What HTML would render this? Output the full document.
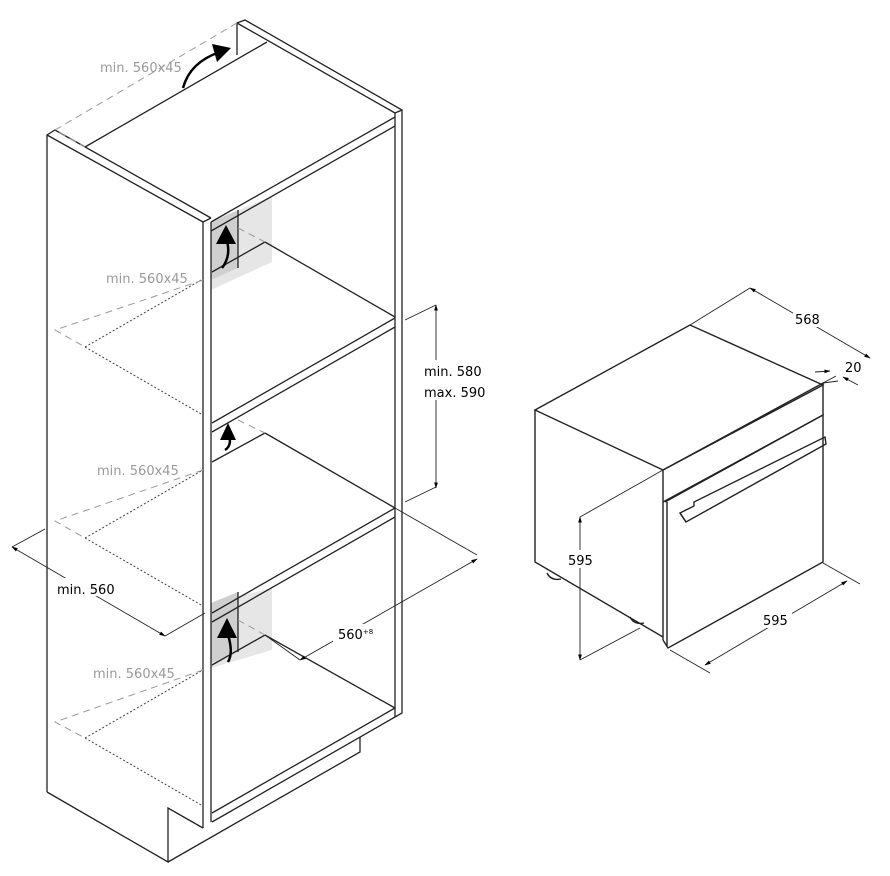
<!DOCTYPE html>
<html><head><meta charset="utf-8"><style>
html,body{margin:0;padding:0;background:#fff}
svg{display:block}
text{font-family:"DejaVu Sans","Liberation Sans",sans-serif;font-size:13px}
.g{fill:#9a9a9a}
</style></head><body>
<svg width="890" height="876" viewBox="0 0 890 876" xmlns="http://www.w3.org/2000/svg">
<defs><marker id="a" viewBox="0 0 10 10" refX="9" refY="5" markerWidth="7" markerHeight="7" orient="auto-start-reverse"><path d="M0,2L10,5L0,8z" fill="#000"/></marker></defs>
<!-- vents -->
<polygon points="211,222 272,196 272,262 211,290" fill="#e6e6e6"/>
<polygon points="211,222 238,210 238,268 211,280" fill="#cfcfcf"/>
<polygon points="211,603 272,588 272,650 211,668" fill="#e6e6e6"/>
<polygon points="211,603 238,592 238,652 211,663" fill="#cfcfcf"/>
<g stroke="#222" stroke-width="1.3" fill="none">
<!-- left side panel -->
<polyline points="47,792 47,135 55,130 211,218"/>
<line x1="47" y1="135" x2="203" y2="222"/>
<line x1="203" y1="222" x2="211" y2="218"/>
<line x1="203" y1="222" x2="203" y2="828"/>
<line x1="211" y1="222" x2="211" y2="822"/>
<polyline points="47,792 168,862 168,808 203,828"/>
<polyline points="168,862 360,752 360,737"/>
<!-- back/right -->
<polyline points="237,55 237,23 245,20 402,110 402,713 395,717"/>
<line x1="237" y1="23" x2="395" y2="113"/>
<line x1="395" y1="113" x2="402" y2="110"/>
<line x1="395" y1="113" x2="395" y2="717"/>
<!-- top board -->
<line x1="85" y1="147" x2="267" y2="42"/>
<line x1="211" y1="222" x2="395" y2="117"/>
<line x1="211" y1="231" x2="395" y2="126"/>
<!-- shelves -->
<line x1="212" y1="423" x2="395" y2="318"/><line x1="212" y1="432" x2="395" y2="327"/><line x1="265" y1="242" x2="395" y2="317"/><line x1="212" y1="272" x2="265" y2="242"/>
<line x1="212" y1="613" x2="395" y2="508"/><line x1="212" y1="622" x2="395" y2="517"/><line x1="265" y1="433" x2="395" y2="508"/><line x1="212" y1="462" x2="265" y2="433"/>
<line x1="212" y1="813" x2="395" y2="708"/><line x1="212" y1="822" x2="395" y2="717"/><line x1="265" y1="635" x2="395" y2="708"/><line x1="212" y1="665" x2="265" y2="635"/>
<line x1="238" y1="210" x2="238" y2="268"/><line x1="238" y1="592" x2="238" y2="652"/>
</g>
<!-- dotted/dashed -->
<g stroke="#444" stroke-width="1" fill="none" stroke-dasharray="2,2">
<line x1="85" y1="347" x2="203" y2="415"/><line x1="85" y1="347" x2="203" y2="279"/>
<line x1="85" y1="538" x2="203" y2="606"/><line x1="85" y1="538" x2="203" y2="470"/>
<line x1="85" y1="738" x2="203" y2="806"/><line x1="85" y1="738" x2="203" y2="670"/>
</g>
<g stroke="#999" stroke-width="1" fill="none" stroke-dasharray="7,5">
<polyline points="237,23 55,130 85,147"/>
<polyline points="203,280 55,330 85,347"/><line x1="238" y1="228" x2="265" y2="242"/>
<polyline points="203,470 55,521 85,538"/><line x1="238" y1="420" x2="265" y2="433"/>
<polyline points="203,670 55,722 85,738"/><line x1="238" y1="620" x2="265" y2="635"/>
</g>
<!-- arrows curved -->
<g stroke="#000" stroke-width="2.5" fill="none">
<path d="M183,88 Q190,62 220,52"/>
<path d="M222,268 Q232,255 226,238"/>
<path d="M225,450 Q233,445 228,432"/>
<path d="M228,662 Q234,652 227,632"/>
</g>
<g fill="#000"><polygon points="231,48 212,44 217,62"/><polygon points="226,225 216,244 236,244"/><polygon points="228,423 220,440 236,440"/><polygon points="227,618 217,638 237,638"/></g>
<!-- cabinet dims -->
<g stroke="#222" stroke-width="0.9" fill="none">
<line x1="436" y1="305" x2="436" y2="488" marker-start="url(#a)" marker-end="url(#a)"/>
<line x1="405" y1="320" x2="436" y2="305"/><line x1="405" y1="502" x2="436" y2="487"/>
<line x1="12" y1="547" x2="165" y2="636" marker-start="url(#a)" marker-end="url(#a)"/>
<line x1="12" y1="547" x2="45" y2="529"/><line x1="165" y1="636" x2="205" y2="613"/>
<line x1="300" y1="660" x2="477" y2="559" marker-start="url(#a)" marker-end="url(#a)"/>
<line x1="395" y1="508" x2="477" y2="555"/><line x1="265" y1="635" x2="300" y2="660"/>
</g>
<rect x="52" y="578" width="72" height="18" fill="#fff"/>
<rect x="333" y="624" width="50" height="18" fill="#fff"/>
<rect x="420" y="360" width="70" height="40" fill="#fff"/>
<text x="100" y="72" class="g">min. 560x45</text>
<text x="106" y="283" class="g">min. 560x45</text>
<text x="97" y="475" class="g">min. 560x45</text>
<text x="93" y="678" class="g">min. 560x45</text>
<text x="424" y="376">min. 580</text>
<text x="424" y="397">max. 590</text>
<text x="57" y="594">min. 560</text>
<text x="338" y="639">560<tspan font-size="7" dy="-5">+8</tspan></text>
<!-- oven -->
<g stroke="#222" stroke-width="1.4" fill="none">
<polygon points="535,410 690,325 823,385 663,470"/>
<polyline points="535,410 535,562 663,637"/>
<line x1="663" y1="470" x2="663" y2="640"/>
<polyline points="663,470 823,383 823,415 665,502"/>
<polyline points="663,502 823,415 823,562 668,648 663,640"/>
<line x1="667" y1="502" x2="667" y2="646"/>
<polygon points="680,513 694,506 694,502 825,437 826,444 686,522"/>
<line x1="680" y1="513" x2="686" y2="522"/>
<path d="M547,573 q4,8 14,6" /><path d="M630,617 q4,8 14,6"/>
</g>
<g stroke="#222" stroke-width="0.9" fill="none">
<line x1="690" y1="325" x2="750" y2="288"/>
<line x1="750" y1="288" x2="870" y2="358" marker-start="url(#a)" marker-end="url(#a)"/>
<line x1="823" y1="383" x2="836" y2="376"/><line x1="823" y1="383" x2="838" y2="381"/>
<line x1="815" y1="372" x2="830" y2="371" marker-end="url(#a)"/>
<line x1="858" y1="385" x2="843" y2="377" marker-end="url(#a)"/>
<line x1="580" y1="517" x2="580" y2="660" marker-start="url(#a)" marker-end="url(#a)"/>
<line x1="580" y1="517" x2="663" y2="470"/><line x1="580" y1="660" x2="640" y2="628"/>
<line x1="705" y1="665" x2="847" y2="581" marker-start="url(#a)" marker-end="url(#a)"/>
<line x1="670" y1="650" x2="710" y2="673"/><line x1="823" y1="563" x2="860" y2="584"/>
</g>
<rect x="793" y="310" width="30" height="17" fill="#fff"/>
<rect x="568" y="550" width="26" height="18" fill="#fff"/>
<rect x="760" y="610" width="32" height="18" fill="#fff"/>
<text x="795" y="324">568</text>
<text x="845" y="372">20</text>
<text x="568" y="565">595</text>
<text x="763" y="625">595</text>
</svg>
</body></html>
